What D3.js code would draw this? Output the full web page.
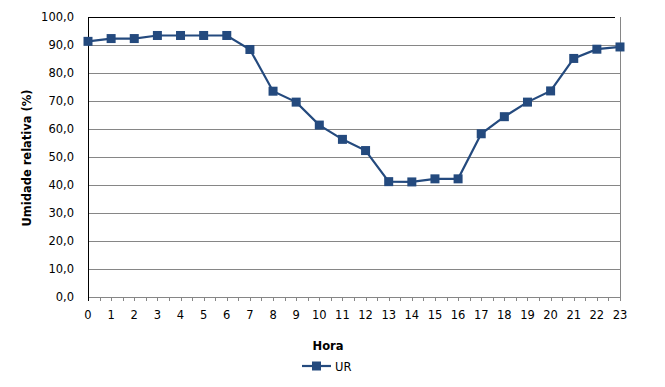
<!DOCTYPE html>
<html><head><meta charset="utf-8">
<script src="https://cdn.jsdelivr.net/npm/d3@7"></script>
<style>body{margin:0;background:#fff}svg{display:block}text{font-family:"DejaVu Sans",Verdana,sans-serif}</style>
</head><body>
<script>
const hours = [0,1,2,3,4,5,6,7,8,9,10,11,12,13,14,15,16,17,18,19,20,21,22,23];
const ur = [91.3,92.3,92.3,93.4,93.4,93.4,93.4,88.4,73.5,69.6,61.4,56.3,52.3,41.2,41.1,42.2,42.2,58.3,64.4,69.6,73.6,85.2,88.5,89.3];
const yTicks = [0,10,20,30,40,50,60,70,80,90,100];
const seriesName = "UR";
const xTitle = "Hora";
const yTitle = "Umidade relativa (%)";

(function(){
const W = 665, H = 387;
const pL = 88, pR = 620, pT = 17, pB = 297;
const color = "#244a7e";
const svg = d3.select("body").append("svg").attr("width", W).attr("height", H);

const x = d3.scaleLinear().domain([0,23]).range([pL,pR]);
const y = d3.scaleLinear().domain([0,100]).range([pB,pT]);

// gridlines
svg.append("g").selectAll("line").data(yTicks.filter(d=>d>0&&d<100)).join("line")
  .attr("x1",pL).attr("x2",pR).attr("y1",d=>Math.round(y(d))+0.5).attr("y2",d=>Math.round(y(d))+0.5)
  .attr("stroke","#868686").attr("stroke-width",1);
// top line
svg.append("line").attr("x1",pL).attr("x2",615).attr("y1",pT+0.5).attr("y2",pT+0.5).attr("stroke","#000");
// right border
svg.append("line").attr("x1",pR+0.5).attr("x2",pR+0.5).attr("y1",pT).attr("y2",pB).attr("stroke","#868686");

// x axis
const halfTicks = d3.range(0,23.01,0.5);
svg.append("g").selectAll("line").data(halfTicks).join("line")
  .attr("x1",d=>Math.round(x(d))+0.5).attr("x2",d=>Math.round(x(d))+0.5)
  .attr("y1",pB).attr("y2",pB+4).attr("stroke","#868686");
svg.append("line").attr("x1",pL).attr("x2",pR+1).attr("y1",pB+0.5).attr("y2",pB+0.5).attr("stroke","#868686");
svg.append("g").selectAll("text").data(hours).join("text")
  .attr("x",d=>x(d)).attr("y",319).attr("text-anchor","middle")
  .attr("font-size",11.5).attr("fill","#000").text(d=>d);

// y axis
svg.append("line").attr("x1",pL+0.5).attr("x2",pL+0.5).attr("y1",pT).attr("y2",pB+4).attr("stroke","#000");
svg.append("g").selectAll("text").data(yTicks).join("text")
  .attr("x",74).attr("y",d=>y(d)+4).attr("text-anchor","end")
  .attr("font-size",11.5).attr("fill","#000").text(d=>d.toFixed(1).replace(".",","));

// titles
svg.append("text").attr("transform",`translate(31,${(pT+pB)/2+1}) rotate(-90)`)
  .attr("text-anchor","middle").attr("font-size",11.5).attr("font-weight","bold").text(yTitle);
svg.append("text").attr("x",328).attr("y",350).attr("text-anchor","middle")
  .attr("font-size",11.5).attr("font-weight","bold").text(xTitle);

// series
const line = d3.line().x((d,i)=>x(hours[i])).y(d=>y(d));
svg.append("path").datum(ur).attr("d",line).attr("fill","none").attr("stroke",color).attr("stroke-width",2.2);
svg.append("g").selectAll("rect").data(ur).join("rect")
  .attr("x",(d,i)=>x(hours[i])-4.5).attr("y",d=>y(d)-4.5).attr("width",9).attr("height",9).attr("fill",color);

// legend
svg.append("line").attr("x1",302).attr("x2",331).attr("y1",366).attr("y2",366).attr("stroke",color).attr("stroke-width",2.2);
svg.append("rect").attr("x",312).attr("y",361.5).attr("width",9).attr("height",9).attr("fill",color);
svg.append("text").attr("x",335).attr("y",370.5).attr("font-size",11.5).text(seriesName);
})();
</script>
</body></html>
